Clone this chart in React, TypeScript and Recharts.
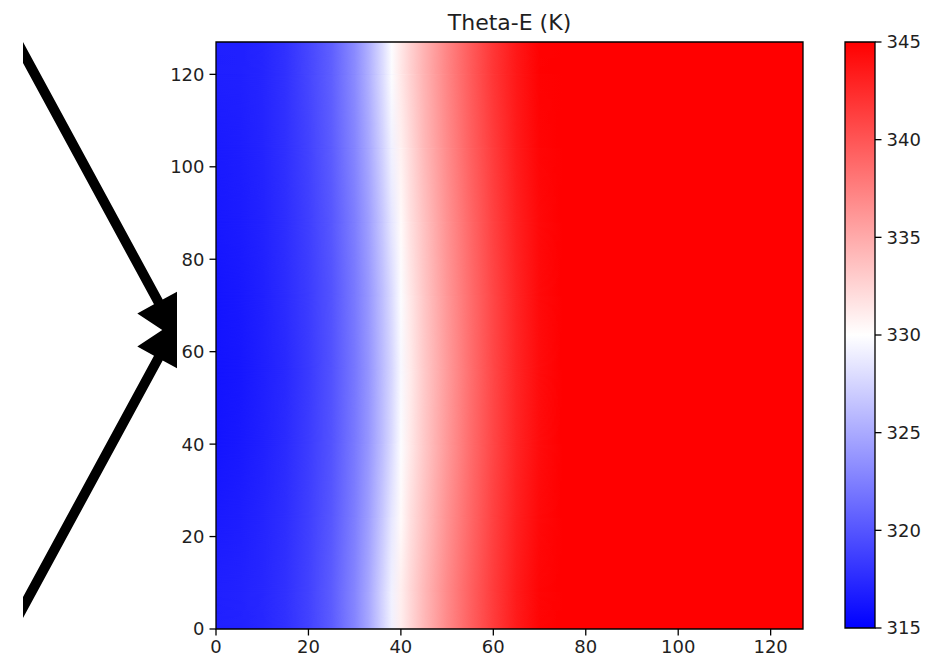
import React from 'react';
import { ComposedChart, XAxis, YAxis, ReferenceArea } from 'recharts';

// Theta-E field (K): sampled columns along x, one row of samples at each y level
const xSamples = [0, 5, 10, 15, 20, 25, 30, 33, 36, 38, 40, 42, 45, 50, 55, 60, 65, 70, 75, 127];
const yLevels = [0, 8, 24, 40, 56, 72, 88, 104, 120, 127];

const thetaY0 = [316.9, 317.0, 317.3, 317.9, 318.9, 320.4, 322.8, 324.8, 327.4, 329.2, 331.0, 332.3, 334.1, 336.9, 339.3, 341.5, 343.4, 344.7, 345.7, 348.0];
const thetaY8 = [316.9, 317.0, 317.3, 317.9, 318.9, 320.4, 322.8, 324.8, 327.4, 329.2, 331.0, 332.3, 334.1, 336.9, 339.3, 341.5, 343.4, 344.7, 345.7, 348.0];
const thetaY24 = [316.5, 316.7, 317.1, 317.7, 318.7, 320.1, 322.4, 324.3, 326.7, 328.5, 330.3, 331.8, 333.6, 336.4, 338.9, 341.2, 343.1, 344.5, 345.6, 348.0];
const thetaY40 = [316.2, 316.4, 316.9, 317.5, 318.5, 319.9, 322.1, 323.8, 326.1, 327.8, 329.8, 331.3, 333.2, 336.0, 338.6, 340.9, 342.9, 344.3, 345.4, 348.0];
const thetaY56 = [316.1, 316.3, 316.8, 317.4, 318.4, 319.8, 322.0, 323.7, 326.0, 327.6, 329.6, 331.2, 333.1, 335.9, 338.5, 340.8, 342.8, 344.3, 345.4, 348.0];
const thetaY72 = [316.2, 316.4, 316.9, 317.6, 318.5, 319.9, 322.1, 323.9, 326.2, 327.9, 329.8, 331.4, 333.3, 336.1, 338.6, 340.9, 342.9, 344.4, 345.5, 348.0];
const thetaY88 = [316.4, 316.6, 317.0, 317.7, 318.7, 320.1, 322.4, 324.3, 326.7, 328.5, 330.3, 331.8, 333.6, 336.4, 338.9, 341.2, 343.1, 344.5, 345.6, 348.0];
const thetaY104 = [316.5, 316.7, 317.1, 317.8, 318.9, 320.4, 322.8, 324.8, 327.3, 329.2, 330.9, 332.2, 334.1, 336.8, 339.3, 341.5, 343.4, 344.7, 345.7, 348.0];
const thetaY120 = [316.8, 316.9, 317.2, 317.9, 319.1, 320.6, 323.1, 325.3, 327.9, 329.8, 331.4, 332.7, 334.5, 337.2, 339.6, 341.8, 343.6, 344.9, 345.9, 348.0];
const thetaY127 = [316.8, 316.9, 317.2, 317.9, 319.1, 320.6, 323.1, 325.3, 327.9, 329.8, 331.4, 332.7, 334.5, 337.2, 339.6, 341.8, 343.6, 344.9, 345.9, 348.0];

const thetaRows = [thetaY0, thetaY8, thetaY24, thetaY40, thetaY56, thetaY72, thetaY88, thetaY104, thetaY120, thetaY127];

const axisTicks = [0, 20, 40, 60, 80, 100, 120];
const colorbarTicks = [315, 320, 325, 330, 335, 340, 345];
const vmin = 315;
const vmax = 345;
const gridMax = 127;

const FONT = 'DejaVu Sans, Verdana, sans-serif';
const TEXT = '#1f1f1f';

// matplotlib "bwr" colormap: blue -> white -> red
function bwr(v: number): string {
  const t = Math.min(1, Math.max(0, (v - vmin) / (vmax - vmin)));
  if (t < 0.5) {
    const c = Math.round(510 * t);
    return `rgb(${c},${c},255)`;
  }
  const c = Math.round(510 * (1 - t));
  return `rgb(255,${c},${c})`;
}

const tickStyle = { fill: TEXT, fontSize: 18, fontFamily: FONT };
const tickLineStyle = { stroke: '#000', strokeWidth: 1.3 };

// strip between two sample rows: lower row's colours faded into the upper row's
const blendStrip = (lower: number, upper: number) => (p: any) => (
  <g>
    <rect x={p.x} y={p.y} width={p.width} height={p.height} fill={`url(#row-${lower})`} shapeRendering="crispEdges" />
    <rect x={p.x} y={p.y} width={p.width} height={p.height} fill={`url(#row-${upper})`} mask="url(#fadeUp)" shapeRendering="crispEdges" />
  </g>
);

// Arrow polygon built from tail, direction and head geometry
function arrowPoints(tail: [number, number], dir: [number, number], baseDist: number, shaftHalf: number, headHalf: number, headLen: number) {
  const len = Math.hypot(dir[0], dir[1]);
  const d = [dir[0] / len, dir[1] / len];
  const n = [-d[1], d[0]];
  const B = [tail[0] + d[0] * baseDist, tail[1] + d[1] * baseDist];
  const T = [B[0] + d[0] * headLen, B[1] + d[1] * headLen];
  const pts = [
    [tail[0] + n[0] * shaftHalf, tail[1] + n[1] * shaftHalf],
    [B[0] + n[0] * shaftHalf, B[1] + n[1] * shaftHalf],
    [B[0] + n[0] * headHalf, B[1] + n[1] * headHalf],
    T,
    [B[0] - n[0] * headHalf, B[1] - n[1] * headHalf],
    [B[0] - n[0] * shaftHalf, B[1] - n[1] * shaftHalf],
    [tail[0] - n[0] * shaftHalf, tail[1] - n[1] * shaftHalf],
  ];
  return pts.map((p) => `${p[0].toFixed(1)},${p[1].toFixed(1)}`).join(' ');
}

export default function App() {
  const W = 933;
  const H = 662;
  return (
    <div style={{ position: 'absolute', left: 0, top: 0, width: W, height: H, background: '#fff', overflow: 'hidden' }}>
      {/* shared gradients and masks */}
      <svg width={0} height={0} style={{ position: 'absolute' }}>
        <defs>
          {thetaRows.map((row, j) => (
            <linearGradient key={j} id={`row-${j}`} x1="0" y1="0" x2="1" y2="0">
              {row.map((v, i) => (
                <stop key={i} offset={xSamples[i] / gridMax} stopColor={bwr(v)} />
              ))}
            </linearGradient>
          ))}
          <linearGradient id="fadeGrad" x1="0" y1="1" x2="0" y2="0">
            <stop offset={0} stopColor="#fff" stopOpacity={0} />
            <stop offset={1} stopColor="#fff" stopOpacity={1} />
          </linearGradient>
          <mask id="fadeUp" maskUnits="objectBoundingBox" maskContentUnits="objectBoundingBox" x="0" y="0" width="1" height="1" style={{ maskType: 'alpha' } as any}>
            <rect x={0} y={0} width={1} height={1} fill="url(#fadeGrad)" />
          </mask>
          <linearGradient id="cbar" x1="0" y1="1" x2="0" y2="0">
            <stop offset={0} stopColor={bwr(vmin)} />
            <stop offset={0.5} stopColor={bwr((vmin + vmax) / 2)} />
            <stop offset={1} stopColor={bwr(vmax)} />
          </linearGradient>
        </defs>
      </svg>

      {/* annotation arrows and title */}
      <svg width={W} height={H} style={{ position: 'absolute', left: 0, top: 0 }}>
        <defs>
          <clipPath id="arrowClip">
            <rect x={23} y={0} width={154} height={H} />
          </clipPath>
        </defs>
        <g clipPath="url(#arrowClip)" fill="#000">
          <polygon points={arrowPoints([0, 10.1], [0.477, 0.879], 332, 5, 24, 45)} />
          <polygon points={arrowPoints([0, 649.9], [0.477, -0.879], 332, 5, 24, 45)} />
        </g>
        <text x={509.5} y={30} textAnchor="middle" fontSize={22} fontFamily={FONT} fill={TEXT}>
          Theta-E (K)
        </text>
      </svg>

      {/* main field */}
      <div style={{ position: 'absolute', left: 0, top: 0 }}>
        <ComposedChart width={W} height={H} margin={{ top: 42, right: 130, bottom: 3, left: 166 }}>
          <XAxis
            type="number"
            dataKey="x"
            domain={[0, gridMax]}
            ticks={axisTicks}
            allowDataOverflow
            axisLine={false}
            tickLine={tickLineStyle}
            tickSize={6.5}
            tickMargin={5}
            tick={tickStyle}
            height={30}
            interval={0}
          />
          <YAxis
            type="number"
            dataKey="y"
            domain={[0, gridMax]}
            ticks={axisTicks}
            allowDataOverflow
            axisLine={false}
            tickLine={tickLineStyle}
            tickSize={6.5}
            tickMargin={5}
            tick={tickStyle}
            width={50}
            interval={0}
          />
          {yLevels.slice(0, -1).map((y, j) => (
            <ReferenceArea
              key={j}
              x1={0}
              x2={gridMax}
              y1={y}
              y2={yLevels[j + 1]}
              fill={`url(#row-${j})`}
              fillOpacity={1}
              stroke="none"
              ifOverflow="visible"
              shape={blendStrip(j, j + 1)}
            />
          ))}
          <ReferenceArea x1={0} x2={gridMax} y1={0} y2={gridMax} fill="none" fillOpacity={0} stroke="#000" strokeWidth={1.3} ifOverflow="visible" />
        </ComposedChart>
      </div>

      {/* colorbar */}
      <div style={{ position: 'absolute', left: 0, top: 0 }}>
        <ComposedChart width={W} height={H} margin={{ top: 42, right: 8, bottom: 34, left: 845 }}>
          <XAxis type="number" dataKey="x" domain={[0, 1]} hide allowDataOverflow height={0} />
          <YAxis
            type="number"
            dataKey="y"
            orientation="right"
            domain={[vmin, vmax]}
            ticks={colorbarTicks}
            allowDataOverflow
            axisLine={false}
            tickLine={tickLineStyle}
            tickSize={6.5}
            tickMargin={5}
            tick={{ ...tickStyle, textAnchor: 'start' }}
            width={50}
            interval={0}
          />
          <ReferenceArea x1={0} x2={1} y1={vmin} y2={vmax} fill="url(#cbar)" fillOpacity={1} stroke="#000" strokeWidth={1.3} ifOverflow="visible" />
        </ComposedChart>
      </div>
    </div>
  );
}
